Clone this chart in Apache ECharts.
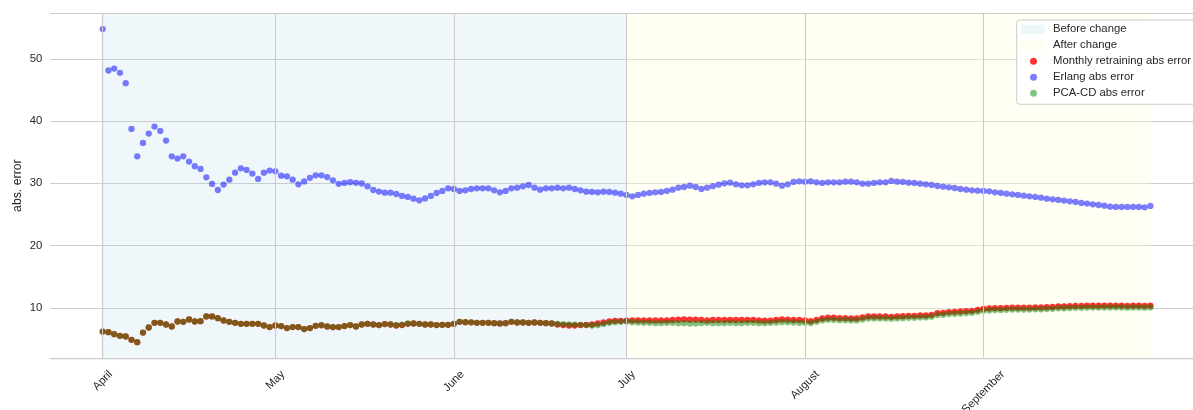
<!DOCTYPE html>
<html>
<head>
<meta charset="utf-8">
<script src="https://cdn.jsdelivr.net/npm/echarts@6/dist/echarts.min.js"></script>
<style>
  html, body { margin: 0; padding: 0; background: #ffffff; }
  #chart { width: 1193px; height: 410px; }
</style>
</head>
<body>
<div id="chart"></div>
<script>
// Month ticks (day offsets from April 1)
const monthLabels = ['April', 'May', 'June', 'July', 'August', 'September'];
const monthStartDay = [0, 30, 61, 91, 122, 153];

// Shaded periods (day offsets)
const beforeChange = [0, 91];
const afterChange = [91, 182];

// Daily absolute errors, April 1 .. September 30
const monthlyRetrainingErr = [
  6.19, 6.09, 5.77, 5.50, 5.39, 4.86, 4.48, 6.03, 6.84, 7.59,
  7.59, 7.32, 7.00, 7.80, 7.75, 8.12, 7.80, 7.86, 8.61, 8.61,
  8.34, 7.96, 7.75, 7.59, 7.43, 7.43, 7.43, 7.43, 7.16, 6.90,
  7.16, 7.06, 6.74, 6.90, 6.90, 6.58, 6.74, 7.11, 7.18, 7.00,
  6.90, 6.90, 7.06, 7.22, 7.00, 7.32, 7.43, 7.32, 7.22, 7.38,
  7.32, 7.16, 7.22, 7.43, 7.48, 7.43, 7.32, 7.32, 7.22, 7.27,
  7.27, 7.43, 7.75, 7.70, 7.67, 7.59, 7.59, 7.59, 7.54, 7.48,
  7.54, 7.75, 7.64, 7.64, 7.59, 7.64, 7.59, 7.54, 7.48, 7.32,
  7.22, 7.16, 7.16, 7.22, 7.27, 7.32, 7.48, 7.64, 7.80, 7.91,
  7.91, 7.94, 7.98, 7.98, 7.98, 7.98, 7.98, 7.98, 7.98, 8.04,
  8.09, 8.14, 8.09, 8.09, 8.04, 7.98, 8.04, 8.04, 8.04, 8.04,
  8.04, 8.04, 8.04, 8.04, 7.98, 7.94, 7.94, 8.04, 8.14, 8.09,
  8.04, 8.04, 7.96, 7.85, 8.07, 8.29, 8.40, 8.40, 8.34, 8.34,
  8.29, 8.29, 8.45, 8.61, 8.61, 8.61, 8.61, 8.56, 8.61, 8.66,
  8.72, 8.72, 8.77, 8.77, 8.88, 9.15, 9.20, 9.31, 9.36, 9.41,
  9.47, 9.52, 9.68, 9.84, 9.90, 9.95, 9.95, 10.00, 10.03, 10.03,
  10.03, 10.03, 10.06, 10.06, 10.10, 10.14, 10.22, 10.22, 10.26, 10.30,
  10.30, 10.34, 10.34, 10.34, 10.36, 10.36, 10.36, 10.36, 10.32, 10.36,
  10.36, 10.32, 10.36
];

const erlangErr = [
  54.77, 48.12, 48.44, 47.75, 46.08, 38.74, 34.34, 36.49, 37.99, 39.11,
  38.42, 36.86, 34.34, 33.97, 34.34, 33.49, 32.74, 32.31, 30.97, 29.90,
  28.93, 29.79, 30.59, 31.71, 32.41, 32.15, 31.56, 30.70, 31.71, 32.04,
  31.93, 31.23, 31.12, 30.59, 29.84, 30.30, 30.88, 31.28, 31.28, 31.00,
  30.48, 29.92, 30.06, 30.19, 30.08, 29.97, 29.51, 28.93, 28.68, 28.50,
  28.50, 28.28, 27.97, 27.81, 27.54, 27.26, 27.58, 27.97, 28.45, 28.77,
  29.19, 29.09, 28.77, 28.87, 29.09, 29.19, 29.19, 29.19, 28.87, 28.55,
  28.77, 29.19, 29.30, 29.51, 29.73, 29.30, 28.98, 29.19, 29.19, 29.30,
  29.19, 29.30, 29.09, 28.87, 28.66, 28.61, 28.55, 28.66, 28.61, 28.50,
  28.34, 28.13, 27.91, 28.13, 28.34, 28.45, 28.55, 28.61, 28.77, 28.98,
  29.30, 29.41, 29.62, 29.41, 29.09, 29.30, 29.54, 29.78, 30.00, 30.11,
  29.84, 29.68, 29.68, 29.84, 30.06, 30.16, 30.16, 29.95, 29.62, 29.84,
  30.22, 30.32, 30.27, 30.32, 30.16, 30.06, 30.16, 30.16, 30.16, 30.27,
  30.27, 30.16, 29.95, 29.95, 30.06, 30.16, 30.16, 30.38, 30.27, 30.22,
  30.11, 30.06, 29.95, 29.84, 29.73, 29.57, 29.46, 29.35, 29.25, 29.09,
  28.98, 28.87, 28.82, 28.77, 28.71, 28.55, 28.45, 28.34, 28.23, 28.13,
  28.02, 27.91, 27.81, 27.70, 27.54, 27.43, 27.33, 27.22, 27.11, 27.01,
  26.85, 26.74, 26.63, 26.52, 26.41, 26.25, 26.20, 26.20, 26.20, 26.20,
  26.20, 26.14, 26.36
];

const pcaCdErr = [
  6.19, 6.09, 5.77, 5.50, 5.39, 4.86, 4.48, 6.03, 6.84, 7.59,
  7.59, 7.32, 7.00, 7.80, 7.75, 8.12, 7.80, 7.86, 8.61, 8.61,
  8.34, 7.96, 7.75, 7.59, 7.43, 7.43, 7.43, 7.43, 7.16, 6.90,
  7.16, 7.06, 6.74, 6.90, 6.90, 6.58, 6.74, 7.11, 7.24, 7.00,
  6.90, 6.90, 7.06, 7.22, 7.00, 7.32, 7.43, 7.32, 7.22, 7.38,
  7.32, 7.20, 7.30, 7.48, 7.48, 7.43, 7.32, 7.32, 7.22, 7.27,
  7.27, 7.43, 7.75, 7.70, 7.67, 7.59, 7.59, 7.59, 7.54, 7.48,
  7.54, 7.75, 7.64, 7.64, 7.59, 7.64, 7.59, 7.54, 7.48, 7.40,
  7.38, 7.32, 7.30, 7.27, 7.22, 7.16, 7.22, 7.38, 7.59, 7.70,
  7.75, 7.80, 7.70, 7.64, 7.59, 7.59, 7.54, 7.54, 7.59, 7.59,
  7.54, 7.54, 7.48, 7.48, 7.54, 7.59, 7.54, 7.54, 7.54, 7.59,
  7.54, 7.54, 7.59, 7.59, 7.54, 7.54, 7.59, 7.64, 7.70, 7.70,
  7.64, 7.59, 7.59, 7.55, 7.75, 7.97, 8.07, 8.07, 8.02, 8.02,
  7.97, 7.97, 8.13, 8.29, 8.29, 8.29, 8.29, 8.24, 8.29, 8.34,
  8.40, 8.40, 8.45, 8.45, 8.56, 8.83, 8.88, 8.99, 9.04, 9.09,
  9.15, 9.20, 9.36, 9.52, 9.58, 9.63, 9.63, 9.68, 9.72, 9.72,
  9.72, 9.72, 9.76, 9.76, 9.80, 9.84, 9.92, 9.92, 9.96, 10.00,
  10.00, 10.04, 10.04, 10.04, 10.06, 10.06, 10.06, 10.06, 10.02, 10.06,
  10.06, 10.02, 10.06
];

const Y_MIN = 1.97;
const Y_MAX = 57.28;
const X_MIN = -9.1;
const X_MAX = 189.4;

const FONT = '"Liberation Sans", Arial, sans-serif';
const TEXT_COLOR = '#262626';
const GRID_COLOR = '#cccccc';

const chart = echarts.init(document.getElementById('chart'), null, { renderer: 'canvas' });
const toPoints = arr => arr.map((v, i) => [i, v]);

const legendBox = {
  type: 'rect',
  z: 50,
  silent: true,
  shape: { x: 1016.7, y: 20, width: 220, height: 84.3, r: 3 },
  style: { fill: 'rgba(255,255,255,0.8)', stroke: '#cccccc', lineWidth: 1 }
};

const legendTextStyle = pad => ({
  fontFamily: FONT, fontSize: 11.3, color: TEXT_COLOR,
  lineHeight: 16, padding: [0, 0, 0, pad]
});

const dotSeries = (name, color, values) => ({
  name, type: 'scatter', z: 3,
  symbolSize: 6.3,
  itemStyle: { color },
  data: toPoints(values)
});

const option = {
  animation: false,
  grid: { left: 50.3, top: 13.5, right: 0, height: 344.3, show: false },
  xAxis: {
    type: 'value', min: X_MIN, max: X_MAX,
    axisLine: { show: true, lineStyle: { color: GRID_COLOR, width: 1.25 } },
    axisTick: { show: false },
    axisLabel: { show: false }, splitLine: { show: false }
  },
  yAxis: {
    type: 'value', min: Y_MIN, max: Y_MAX,
    axisLine: { show: true, lineStyle: { color: GRID_COLOR, width: 1.25 } },
    axisTick: { show: false },
    axisLabel: {
      fontFamily: FONT, fontSize: 11.3, color: TEXT_COLOR, margin: 8,
      showMinLabel: false, showMaxLabel: false
    },
    splitLine: { lineStyle: { color: GRID_COLOR, width: 1 } }
  },
  legend: [
    {
      orient: 'vertical', left: 1021, top: 21.3, padding: 0, itemGap: 0,
      itemWidth: 24, itemHeight: 9, icon: 'rect', selectedMode: false, z: 60,
      data: ['Before change', 'After change'],
      textStyle: legendTextStyle(3)
    },
    {
      orient: 'vertical', left: 1030, top: 53.3, padding: 0, itemGap: 0,
      itemWidth: 7, itemHeight: 7, icon: 'circle', selectedMode: false, z: 60,
      data: ['Monthly retraining abs error', 'Erlang abs error', 'PCA-CD abs error'],
      textStyle: legendTextStyle(11)
    }
  ],
  graphic: { elements: [legendBox] },
  series: [
    {
      name: 'frame', type: 'scatter', data: [], z: 1, silent: true,
      markLine: {
        silent: true, symbol: ['none', 'none'], label: { show: false },
        emphasis: { disabled: true },
        lineStyle: { color: GRID_COLOR, width: 1.1, type: 'solid' },
        data: monthStartDay.map(d => ({ xAxis: d })).concat([{ yAxis: Y_MAX }])
      }
    },
    {
      name: 'Before change', type: 'scatter', data: [], z: 2, silent: true,
      itemStyle: { color: 'rgba(173,216,230,0.3)' },
      markArea: {
        silent: true, emphasis: { disabled: true },
        itemStyle: { color: 'rgba(173,216,230,0.2)' },
        data: [[{ xAxis: beforeChange[0] }, { xAxis: beforeChange[1] }]]
      }
    },
    {
      name: 'After change', type: 'scatter', data: [], z: 2, silent: true,
      itemStyle: { color: 'rgba(255,255,224,0.6)' },
      markArea: {
        silent: true, emphasis: { disabled: true },
        itemStyle: { color: 'rgba(255,255,224,0.38)' },
        data: [[{ xAxis: afterChange[0] }, { xAxis: afterChange[1] }]]
      }
    },
    dotSeries('Monthly retraining abs error', 'rgb(255,0,0)', monthlyRetrainingErr),
    dotSeries('Erlang abs error', 'rgba(0,0,255,0.64)', erlangErr),
    dotSeries('PCA-CD abs error', 'rgba(0,128,0,0.6)', pcaCdErr)
  ]
};

chart.setOption(option);

// Month labels: rotated 45°, centred under each month tick
const measure = document.createElement('canvas').getContext('2d');
measure.font = '11.3px ' + FONT;
const monthTexts = monthLabels.map((label, i) => {
  const p = chart.convertToPixel({ gridIndex: 0 }, [monthStartDay[i], Y_MIN]);
  const w = measure.measureText(label).width;
  return {
    type: 'text', z: 10, silent: true,
    x: p[0], y: p[1] + 14.7 + 0.354 * w,
    rotation: Math.PI / 4,
    style: {
      text: label, fill: TEXT_COLOR, font: '11.3px ' + FONT,
      align: 'center', verticalAlign: 'middle'
    }
  };
});

// Y axis title, centred on the plot height
const yMid = (chart.convertToPixel({ gridIndex: 0 }, [0, Y_MIN])[1] +
              chart.convertToPixel({ gridIndex: 0 }, [0, Y_MAX])[1]) / 2;
const yTitle = {
  type: 'text', z: 10, silent: true,
  x: 17.7, y: yMid, rotation: Math.PI / 2,
  style: {
    text: 'abs. error', fill: TEXT_COLOR, font: '12.3px ' + FONT,
    align: 'center', verticalAlign: 'middle'
  }
};

chart.setOption({ graphic: { elements: [legendBox, yTitle].concat(monthTexts) } });
</script>
</body>
</html>
